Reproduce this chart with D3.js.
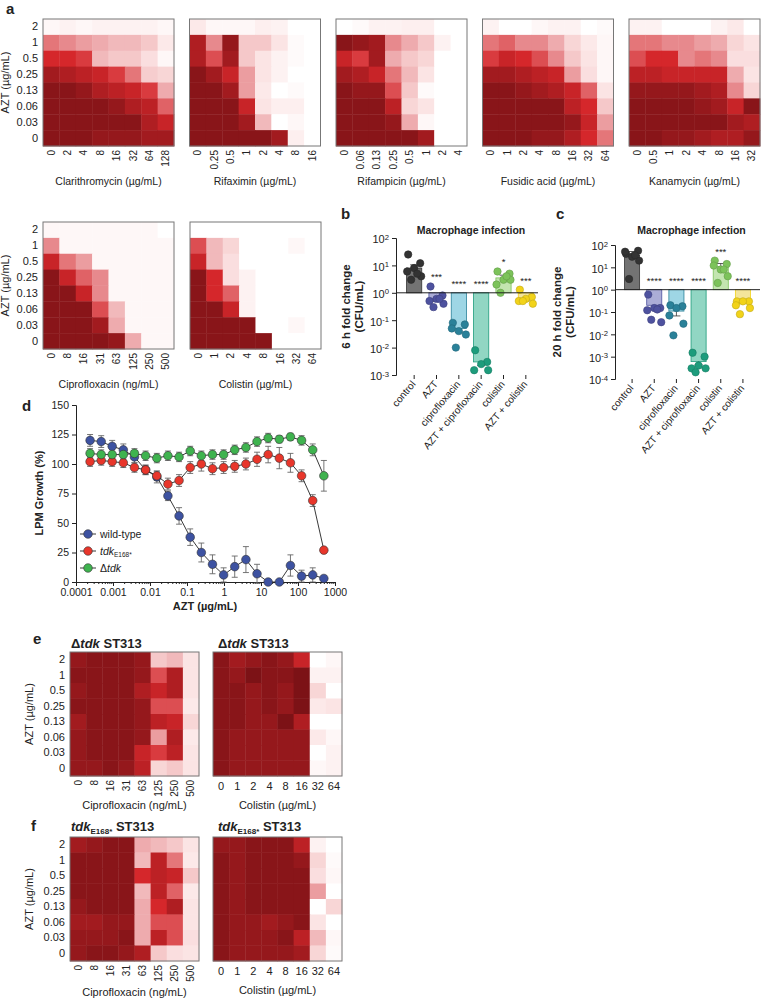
<!DOCTYPE html>
<html>
<head>
<meta charset="utf-8">
<script src="https://cdn.jsdelivr.net/npm/d3@7"></script>
<style>
  body { margin: 0; background: #fff; }
  text { font-family: Arial, "Liberation Sans", Helvetica, sans-serif; fill: #222; }
</style>
</head>
<body>
<script>
// ---- data ----
const aztLevels = ["2", "1", "0.5", "0.25", "0.13", "0.06", "0.03", "0"];

const clariConc = ["0", "2", "4", "8", "16", "32", "64", "128"];
const rifaxConc = ["0", "0.25", "0.5", "1", "2", "4", "8", "16"];
const rifamConc = ["0", "0.06", "0.13", "0.25", "0.5", "1", "2", "4"];
const fusidConc = ["0", "1", "2", "4", "8", "16", "32", "64"];
const kanaConc = ["0", "0.5", "1", "2", "4", "8", "16", "32"];
const ciproConc = ["0", "8", "16", "31", "63", "125", "250", "500"];
const colisConc = ["0", "1", "2", "4", "8", "16", "32", "64"];

// growth fraction, rows = AZT 2 .. 0, cols = drug conc
const clarithro = [
  [0.03, 0.05, 0.03, 0.05, 0.05, 0.05, 0.05, 0.03],
  [0.45, 0.4, 0.35, 0.3, 0.25, 0.25, 0.2, 0.08],
  [0.65, 0.65, 0.6, 0.25, 0.2, 0.2, 0.12, 0.03],
  [0.85, 0.8, 0.75, 0.7, 0.6, 0.45, 0.18, 0.15],
  [0.95, 0.95, 0.9, 0.8, 0.75, 0.7, 0.6, 0.3],
  [0.95, 0.95, 0.95, 0.95, 0.9, 0.8, 0.75, 0.5],
  [0.95, 0.95, 0.95, 0.95, 0.95, 0.95, 0.8, 0.7],
  [0.95, 0.95, 0.95, 0.9, 0.9, 0.9, 0.85, 0.85]
];
const rifaximin = [
  [0.08, 0.03, 0.03, 0.03, 0.06, 0.05, 0, 0],
  [0.8, 0.4, 0.9, 0.2, 0.2, 0.1, 0.02, 0],
  [0.8, 0.55, 0.85, 0.2, 0.1, 0.05, 0.02, 0],
  [0.95, 0.85, 0.7, 0.35, 0.1, 0.05, 0, 0],
  [0.95, 0.95, 0.85, 0.35, 0.08, 0, 0.02, 0],
  [0.95, 0.95, 0.95, 0.7, 0.1, 0.06, 0.06, 0],
  [0.95, 0.95, 0.95, 0.85, 0.25, 0, 0.03, 0],
  [0.95, 0.95, 0.95, 0.95, 0.95, 0.85, 0.06, 0]
];
const rifampicin = [
  [0, 0.02, 0.05, 0.05, 0.06, 0.06, 0, 0],
  [0.95, 0.9, 0.85, 0.4, 0.3, 0.2, 0.05, 0],
  [0.7, 0.6, 0.85, 0.3, 0.2, 0.15, 0, 0],
  [0.85, 0.8, 0.7, 0.45, 0.25, 0.1, 0, 0],
  [0.95, 0.9, 0.9, 0.55, 0.2, 0.02, 0, 0],
  [0.95, 0.95, 0.95, 0.75, 0.15, 0.1, 0, 0],
  [0.95, 0.95, 0.95, 0.9, 0.3, 0.03, 0, 0],
  [0.95, 0.95, 0.95, 0.95, 0.95, 0.85, 0, 0]
];
const fusidic = [
  [0.05, 0, 0, 0.03, 0.05, 0.05, 0, 0.02],
  [0.45, 0.5, 0.4, 0.4, 0.3, 0.15, 0.08, 0.03],
  [0.6, 0.7, 0.65, 0.55, 0.4, 0.2, 0.1, 0.03],
  [0.85, 0.85, 0.8, 0.75, 0.7, 0.35, 0.12, 0.03],
  [0.95, 0.95, 0.9, 0.85, 0.8, 0.7, 0.5, 0.1],
  [0.95, 0.95, 0.95, 0.95, 0.95, 0.75, 0.65, 0.2],
  [0.95, 0.95, 0.95, 0.95, 0.95, 0.9, 0.7, 0.35],
  [0.95, 0.95, 0.95, 0.9, 0.9, 0.8, 0.65, 0.45]
];
const kanamycin = [
  [0.05, 0.05, 0, 0, 0, 0.05, 0.08, 0],
  [0.45, 0.45, 0.4, 0.4, 0.35, 0.3, 0.15, 0.1],
  [0.55, 0.65, 0.65, 0.4, 0.45, 0.4, 0.12, 0.12],
  [0.75, 0.75, 0.7, 0.7, 0.7, 0.7, 0.3, 0.1],
  [0.9, 0.9, 0.9, 0.9, 0.85, 0.8, 0.4, 0.15],
  [0.95, 0.95, 0.95, 0.95, 0.9, 0.85, 0.7, 0.95],
  [0.95, 0.95, 0.95, 0.95, 0.95, 0.95, 0.85, 0.8],
  [0.95, 0.95, 0.9, 0.9, 0.85, 0.8, 0.8, 0.9]
];
const ciproWT = [
  [0.03, 0.03, 0.03, 0.03, 0.03, 0.03, 0.03, 0],
  [0.4, 0.03, 0.03, 0.03, 0.03, 0.03, 0.03, 0.03],
  [0.7, 0.45, 0.35, 0.03, 0.03, 0.03, 0.03, 0.03],
  [0.95, 0.7, 0.5, 0.4, 0.03, 0.03, 0.03, 0.03],
  [0.95, 0.95, 0.7, 0.4, 0.03, 0.03, 0.03, 0.03],
  [0.95, 0.95, 0.95, 0.55, 0.25, 0.03, 0.03, 0.03],
  [0.95, 0.95, 0.95, 0.85, 0.3, 0.03, 0.03, 0.03],
  [0.95, 0.95, 0.95, 0.95, 0.9, 0.3, 0.03, 0.03]
];
const colisWT = [
  [0, 0, 0, 0, 0, 0, 0, 0],
  [0.55, 0.25, 0.15, 0, 0, 0, 0.03, 0],
  [0.7, 0.25, 0.12, 0, 0, 0, 0, 0],
  [0.95, 0.65, 0.12, 0.05, 0, 0, 0, 0],
  [0.95, 0.65, 0.5, 0.05, 0, 0, 0, 0],
  [0.95, 0.95, 0.7, 0.05, 0, 0, 0, 0],
  [0.95, 0.95, 0.95, 0.95, 0, 0, 0.03, 0],
  [0.95, 0.95, 0.95, 0.95, 0.95, 0, 0, 0]
];
const ciproDtdk = [
  [0.9, 0.95, 0.95, 0.95, 0.9, 0.2, 0.25, 0.1],
  [0.95, 0.95, 0.95, 0.95, 0.9, 0.55, 0.8, 0.1],
  [0.9, 0.95, 0.95, 0.95, 0.8, 0.7, 0.8, 0.1],
  [0.95, 0.95, 0.95, 0.95, 0.9, 0.55, 0.55, 0.08],
  [0.85, 0.95, 0.95, 0.95, 0.9, 0.75, 0.7, 0.15],
  [0.9, 0.95, 0.95, 0.95, 0.9, 0.35, 0.8, 0.08],
  [0.9, 0.95, 0.95, 0.95, 0.7, 0.6, 0.75, 0.1],
  [0.9, 0.9, 0.95, 0.9, 0.75, 0.15, 0.2, 0.1]
];
const colisDtdk = [
  [0.95, 0.85, 0.9, 0.95, 0.9, 0.7, 0, 0.03],
  [0.95, 0.9, 1, 0.95, 0.95, 1, 0.05, 0.05],
  [0.95, 0.95, 0.9, 0.95, 0.9, 1, 0.15, 0],
  [0.95, 0.95, 0.9, 0.95, 0.9, 1, 0.08, 0.1],
  [0.95, 0.95, 0.9, 0.9, 1, 0.8, 0, 0],
  [0.95, 0.9, 0.9, 0.9, 0.9, 0.9, 0.08, 0.03],
  [0.95, 0.9, 0.9, 0.9, 0.9, 0.9, 0, 0.05],
  [0.95, 0.9, 0.9, 0.9, 0.9, 0.9, 0.03, 0.05]
];
const ciproE168 = [
  [0.85, 0.9, 0.95, 0.95, 0.3, 0.25, 0.2, 0.1],
  [0.95, 0.95, 0.95, 0.95, 0.25, 0.75, 0.45, 0.08],
  [0.95, 0.95, 0.95, 0.95, 0.65, 0.75, 0.7, 0.2],
  [0.95, 0.95, 0.95, 0.95, 0.25, 0.75, 0.5, 0.08],
  [0.9, 0.95, 0.95, 0.95, 0.3, 0.65, 0.8, 0.1],
  [0.85, 0.85, 0.9, 0.9, 0.3, 0.55, 0.55, 0.1],
  [0.9, 0.9, 0.9, 0.95, 0.3, 0.75, 0.55, 0.12],
  [0.9, 0.95, 0.95, 0.9, 0.8, 0.2, 0.12, 0.1]
];
const colisE168 = [
  [0.9, 0.9, 0.95, 0.95, 0.95, 0.75, 0.05, 0],
  [0.95, 0.9, 0.95, 0.95, 0.95, 0.9, 0.15, 0.02],
  [0.95, 0.9, 0.95, 0.95, 0.95, 0.95, 0.12, 0.03],
  [0.95, 0.9, 0.95, 0.95, 0.95, 0.95, 0.35, 0],
  [0.95, 0.9, 0.95, 0.95, 0.95, 0.95, 0, 0.15],
  [0.95, 0.9, 0.9, 0.85, 0.9, 0.95, 0.1, 0],
  [0.95, 0.9, 0.9, 0.9, 0.95, 0.75, 0.25, 0.03],
  [0.95, 0.9, 0.9, 0.9, 0.9, 0.85, 0.15, 0.02]
];

// macrophage infection
const groups = ["control", "AZT", "ciprofloxacin", "AZT + ciprofloxacin", "colistin", "AZT + colistin"];
const sixHMean = [8, 0.6, 0.05, 0.003, 3.5, 0.6];
const sixHPoints = [
  [25, 12, 8, 6, 4, 3, 5],
  [1.7, 0.8, 0.6, 0.5, 0.4, 0.3, 0.6],
  [0.08, 0.07, 0.04, 0.05, 0.03, 0.01],
  [0.008, 0.003, 0.0025, 0.0015, 0.0015],
  [6, 5, 3, 2, 3, 1, 4],
  [1.3, 0.7, 0.6, 0.5, 0.4, 0.5]
];
const sixHStars = ["", "***", "****", "****", "*", "***"];
const twentyHMean = [35, 0.2, 0.11, 0.0006, 11, 0.3];
const twentyHPoints = [
  [40, 55, 30, 50, 20, 3, 35],
  [0.6, 0.15, 0.15, 0.12, 0.035, 0.045, 0.13],
  [0.2, 0.18, 0.15, 0.07, 0.03, 0.009],
  [0.0015, 0.001, 0.0004, 0.0003, 0.0003, 0.0002],
  [20, 14, 8, 12, 4, 2, 8],
  [0.3, 0.3, 0.3, 0.2, 0.15, 0.08]
];
const twentyHStars = ["", "****", "****", "****", "***", "****"];

// LPM growth vs AZT
const aztDose = [0.00024, 0.00048, 0.00095, 0.0019, 0.0038, 0.0076, 0.0153, 0.0305, 0.061, 0.122, 0.244,
  0.488, 0.977, 1.95, 3.91, 7.81, 15.6, 31.3, 62.5, 125, 250, 500];
const wildType = [120, 119, 115, 112, 106, 95, 89, 73, 56, 38, 25, 15, 6, 13, 19, 7, 0, 0, 14, 5, 6, 3];
const wildTypeErr = [5, 5, 5, 5, 5, 4, 5, 4, 7, 7, 8, 8, 6, 9, 11, 8, 2, 2, 9, 5, 6, 2];
const tdkE168 = [102, 103, 102, 101, 97, 95, 90, 83, 86, 97, 100, 96, 97, 98, 100, 104, 108, 105, 101, 90, 69, 27];
const tdkE168Err = [4, 4, 4, 4, 4, 4, 4, 5, 5, 5, 6, 5, 5, 5, 5, 6, 7, 9, 8, 5, 5, 2];
const deltaTdk = [109, 108, 108, 108, 109, 107, 105, 107, 106, 111, 107, 108, 108, 112, 114, 119, 122, 121, 123, 120, 112, 90];
const deltaTdkErr = [4, 4, 4, 4, 4, 4, 4, 4, 4, 4, 4, 4, 4, 4, 4, 4, 4, 3, 3, 4, 5, 13];

// ---- drawing ----
const svg = d3.select("body").append("svg").attr("width", 762).attr("height", 999);

const heatColor = d3.scaleLinear()
  .domain([0, 0.1, 0.35, 0.65, 1])
  .range(["#ffffff", "#fbe4e4", "#eb9da0", "#d5272b", "#7c1216"])
  .clamp(true);

function heatmap(o) {
  const g = svg.append("g").attr("transform", `translate(${o.x},${o.y})`);
  const x = d3.scaleBand().domain(o.cols).range([0, o.w]);
  const y = d3.scaleBand().domain(aztLevels).range([0, o.h]);
  const cells = [];
  o.vals.forEach((row, i) => row.forEach((v, j) => cells.push({ r: aztLevels[i], c: o.cols[j], v })));
  g.selectAll("rect.cell").data(cells).join("rect")
    .attr("x", d => x(d.c)).attr("y", d => y(d.r))
    .attr("width", x.bandwidth() + 0.4).attr("height", y.bandwidth() + 0.4)
    .attr("fill", d => heatColor(d.v));
  g.append("rect").attr("width", o.w).attr("height", o.h)
    .attr("fill", "none").attr("stroke", "#777").attr("stroke-width", 1);

  const xa = g.append("g").attr("transform", `translate(0,${o.h})`)
    .call(d3.axisBottom(x).tickSize(0).tickPadding(5));
  xa.select(".domain").remove();
  xa.selectAll("text").attr("font-size", 10).attr("fill", "#222");
  if (o.rot) {
    xa.selectAll("text").attr("transform", "rotate(-90)")
      .attr("text-anchor", "end").attr("x", -4).attr("y", 0).attr("dy", "0.35em");
  } else {
    xa.selectAll("text").attr("font-size", 11).attr("y", 6);
  }
  if (o.yAxis) {
    const ya = g.append("g").call(d3.axisLeft(y).tickSize(0).tickPadding(5));
    ya.select(".domain").remove();
    ya.selectAll("text").attr("font-size", 11).attr("fill", "#222");
    g.append("text").attr("transform", `translate(${o.yTitleX},${o.h / 2}) rotate(-90)`)
      .attr("text-anchor", "middle").attr("font-size", 11).text("AZT (µg/mL)");
  }
  g.append("text").attr("x", o.w / 2).attr("y", o.h + o.titleDy)
    .attr("text-anchor", "middle").attr("font-size", o.titleSize || 10.5).text(o.title);
}

function panelLetter(t, x, y) {
  svg.append("text").attr("x", x).attr("y", y).attr("font-size", 15)
    .attr("font-weight", "bold").attr("fill", "#000").text(t);
}

// panel a
panelLetter("a", 6, 14);
const rowOne = [
  [clarithro, clariConc, "Clarithromycin (µg/mL)"],
  [rifaximin, rifaxConc, "Rifaximin (µg/mL)"],
  [rifampicin, rifamConc, "Rifampicin (µg/mL)"],
  [fusidic, fusidConc, "Fusidic acid (µg/mL)"],
  [kanamycin, kanaConc, "Kanamycin (µg/mL)"]
];
rowOne.forEach((m, i) => heatmap({
  vals: m[0], cols: m[1], title: m[2], x: 43 + i * 146.5, y: 19, w: 131, h: 127,
  rot: true, yAxis: i === 0, yTitleX: -34, titleDy: 39
}));
heatmap({ vals: ciproWT, cols: ciproConc, title: "Ciprofloxacin (ng/mL)", x: 43, y: 222, w: 131, h: 127,
  rot: true, yAxis: true, yTitleX: -34, titleDy: 39 });
heatmap({ vals: colisWT, cols: colisConc, title: "Colistin (µg/mL)", x: 190, y: 222, w: 131, h: 127,
  rot: true, yAxis: false, titleDy: 39 });

// panels b, c
const groupColors = ["#333333", "#4e529f", "#2a8199", "#1d9c7c", "#7cc35a", "#f2d31a"];
const barColors = ["#5a5a5a", "#9c9fd0", "#8dcfe0", "#7ecfb8", "#b9e0a2", "#f2e08a"];

function barPanel(o) {
  const g = svg.append("g");
  const y = d3.scaleLog().domain(o.domain).range([o.bottom, o.top]);
  const x = d3.scaleBand().domain(groups).range([o.x0, o.x1]).paddingInner(0.32).paddingOuter(0.16);
  const cx = d => x(d) + x.bandwidth() / 2;

  g.selectAll("rect.bar").data(groups).join("rect")
    .attr("x", d => x(d)).attr("width", x.bandwidth())
    .attr("y", (d, i) => Math.min(y(1), y(o.means[i])))
    .attr("height", (d, i) => Math.abs(y(1) - y(o.means[i])))
    .attr("fill", (d, i) => barColors[i]).attr("fill-opacity", 0.85)
    .attr("stroke", (d, i) => groupColors[i]).attr("stroke-width", 0.8);

  // SEM error bars (computed on log10 of points)
  groups.forEach((grp, i) => {
    const lg = o.points[i].map(Math.log10);
    const sem = d3.deviation(lg) / Math.sqrt(lg.length);
    const m = Math.log10(o.means[i]);
    const dir = o.means[i] >= 1 ? 1 : -1;
    const tip = Math.pow(10, m + dir * sem);
    g.append("line").attr("x1", cx(grp)).attr("x2", cx(grp))
      .attr("y1", y(o.means[i])).attr("y2", y(tip)).attr("stroke", "#333").attr("stroke-width", 0.8);
    g.append("line").attr("x1", cx(grp) - 4).attr("x2", cx(grp) + 4)
      .attr("y1", y(tip)).attr("y2", y(tip)).attr("stroke", "#333").attr("stroke-width", 0.8);
  });

  // points, spread in a small beeswarm-like pattern
  const offsets = [-6, 6, 0, -7, 7, -3, 3];
  groups.forEach((grp, i) => {
    g.selectAll(null).data(o.points[i]).join("circle")
      .attr("cx", (d, k) => cx(grp) + offsets[k % offsets.length])
      .attr("cy", d => y(d)).attr("r", 3.7)
      .attr("fill", groupColors[i]).attr("stroke", d3.color(groupColors[i]).darker(0.6)).attr("stroke-width", 0.6);
    if (o.stars[i]) {
      const top = Math.max(1, d3.max(o.points[i]));
      g.append("text").attr("x", cx(grp)).attr("y", y(top) - 6)
        .attr("text-anchor", "middle").attr("font-size", 9.5).attr("fill", "#222").text(o.stars[i]);
    }
  });

  // baseline at 10^0
  g.append("line").attr("x1", o.axisX).attr("x2", o.lineEnd).attr("y1", y(1)).attr("y2", y(1))
    .attr("stroke", "#222").attr("stroke-width", 1);

  // y axis
  const ya = g.append("g").attr("transform", `translate(${o.axisX},0)`)
    .call(d3.axisLeft(y).tickValues(o.ticks).tickSize(4).tickPadding(3).tickFormat(() => ""));
  ya.selectAll("line, path").attr("stroke", "#222");
  ya.selectAll(".tick text").each(function (d) {
    const t = d3.select(this).attr("font-size", 11).attr("fill", "#222").attr("dy", "0.45em");
    const e = Math.round(Math.log10(d));
    t.append("tspan").text("10");
    t.append("tspan").attr("dy", "-0.5em").attr("font-size", "0.7em").text(e);
  });

  // bottom ticks and rotated group labels
  const xa = g.append("g").attr("transform", `translate(0,${o.bottom})`)
    .call(d3.axisBottom(x).tickSize(4).tickPadding(4));
  xa.select(".domain").remove();
  xa.selectAll("line").attr("stroke", "#222");
  xa.selectAll("text").attr("font-size", 10).attr("fill", "#222")
    .attr("transform", "rotate(-50)").attr("text-anchor", "end")
    .attr("x", -6).attr("y", 4).attr("dy", "0.35em");

  g.append("text").attr("x", (o.axisX + o.lineEnd) / 2 + 4).attr("y", o.titleY)
    .attr("text-anchor", "middle").attr("font-size", 10.5).attr("font-weight", "bold")
    .attr("fill", "#000").text("Macrophage infection");
  const yl = g.append("text").attr("transform", `translate(${o.yTitleX},${(o.top + o.bottom) / 2}) rotate(-90)`)
    .attr("text-anchor", "middle").attr("font-size", 11.5).attr("font-weight", "bold").attr("fill", "#000");
  yl.append("tspan").attr("x", 0).attr("dy", 0).text(o.yTitle);
  yl.append("tspan").attr("x", 0).attr("dy", "1.15em").text("(CFU/mL)");
}

panelLetter("b", 341, 219);
barPanel({
  domain: [1e-3, 1e2], top: 238, bottom: 375, x0: 403, x1: 537, axisX: 396, lineEnd: 538,
  means: sixHMean, points: sixHPoints, stars: sixHStars, ticks: [1e-3, 1e-2, 1e-1, 1, 10, 100],
  titleY: 234, yTitleX: 350, yTitle: "6 h fold change"
});
panelLetter("c", 556, 219);
barPanel({
  domain: [1e-4, 1e2], top: 245, bottom: 379, x0: 621, x1: 754, axisX: 615, lineEnd: 760,
  means: twentyHMean, points: twentyHPoints, stars: twentyHStars, ticks: [1e-4, 1e-3, 1e-2, 1e-1, 1, 10, 100],
  titleY: 234, yTitleX: 561, yTitle: "20 h fold change"
});

// panel d
panelLetter("d", 22, 411);
(function () {
  const g = svg.append("g");
  const x = d3.scaleLog().domain([1e-4, 1e3]).range([76, 335]);
  const y = d3.scaleLinear().domain([0, 150]).range([582, 405]);

  const ya = g.append("g").attr("transform", "translate(76,0)")
    .call(d3.axisLeft(y).tickValues([0, 25, 50, 75, 100, 125, 150]).tickSize(4).tickPadding(3));
  ya.selectAll("text").attr("font-size", 10.5).attr("fill", "#222");
  ya.selectAll("line, path").attr("stroke", "#222");

  const decades = [1e-4, 1e-3, 1e-2, 1e-1, 1, 10, 100, 1000];
  const xa = g.append("g").attr("transform", "translate(0,582)")
    .call(d3.axisBottom(x).tickValues(decades).tickSize(4).tickPadding(3)
      .tickFormat(d => d >= 1 ? d3.format("d")(d) : d3.format(".4~f")(d)));
  xa.selectAll("text").attr("font-size", 10.5).attr("fill", "#222");
  xa.selectAll("line, path").attr("stroke", "#222");
  const minor = [];
  decades.slice(0, -1).forEach(dd => { for (let k = 2; k < 10; k++) minor.push(dd * k); });
  const xm = g.append("g").attr("transform", "translate(0,582)")
    .call(d3.axisBottom(x).tickValues(minor).tickSize(2).tickFormat(""));
  xm.select(".domain").remove();
  xm.selectAll("line").attr("stroke", "#222");

  g.append("text").attr("x", 205).attr("y", 610).attr("text-anchor", "middle")
    .attr("font-size", 11).attr("font-weight", "bold").attr("fill", "#000").text("AZT (µg/mL)");
  g.append("text").attr("transform", "translate(43,493) rotate(-90)").attr("text-anchor", "middle")
    .attr("font-size", 11).attr("font-weight", "bold").attr("fill", "#000").text("LPM Growth (%)");

  const series = [
    { vals: wildType, err: wildTypeErr, color: "#3d52a1" },
    { vals: tdkE168, err: tdkE168Err, color: "#e8362b" },
    { vals: deltaTdk, err: deltaTdkErr, color: "#3fb34f" }
  ];
  const line = d3.line().x((d, i) => x(aztDose[i])).y(d => y(d));
  series.forEach(s => {
    const eg = g.append("g").attr("stroke", "#666").attr("stroke-width", 0.9);
    s.vals.forEach((v, i) => {
      const xx = x(aztDose[i]);
      eg.append("line").attr("x1", xx).attr("x2", xx).attr("y1", y(v - s.err[i])).attr("y2", y(v + s.err[i]));
      eg.append("line").attr("x1", xx - 3).attr("x2", xx + 3).attr("y1", y(v + s.err[i])).attr("y2", y(v + s.err[i]));
      eg.append("line").attr("x1", xx - 3).attr("x2", xx + 3).attr("y1", y(v - s.err[i])).attr("y2", y(v - s.err[i]));
    });
  });
  series.forEach(s => {
    g.append("path").datum(s.vals).attr("d", line).attr("fill", "none")
      .attr("stroke", "#222").attr("stroke-width", 0.9);
    g.selectAll(null).data(s.vals).join("circle")
      .attr("cx", (d, i) => x(aztDose[i])).attr("cy", d => y(d)).attr("r", 4.3)
      .attr("fill", s.color).attr("stroke", "#333").attr("stroke-width", 0.6);
  });

  // legend
  const legY = [534, 551, 568];
  series.forEach((s, i) => {
    g.append("line").attr("x1", 80).attr("x2", 96).attr("y1", legY[i]).attr("y2", legY[i])
      .attr("stroke", "#222").attr("stroke-width", 0.9);
    g.append("circle").attr("cx", 88).attr("cy", legY[i]).attr("r", 4.3)
      .attr("fill", s.color).attr("stroke", "#333").attr("stroke-width", 0.6);
  });
  g.append("text").attr("x", 100).attr("y", legY[0] + 3.5).attr("font-size", 10.5).text("wild-type");
  const t2 = g.append("text").attr("x", 100).attr("y", legY[1] + 3.5).attr("font-size", 10.5);
  t2.append("tspan").attr("font-style", "italic").text("tdk");
  t2.append("tspan").attr("font-size", 6.5).attr("dy", 2.5).text("E168*");
  const t3 = g.append("text").attr("x", 100).attr("y", legY[2] + 3.5).attr("font-size", 10.5);
  t3.append("tspan").text("Δ");
  t3.append("tspan").attr("font-style", "italic").text("tdk");
})();

// panels e, f
function mapTitle(x, y, mutant) {
  const t = svg.append("text").attr("x", x).attr("y", y).attr("font-size", 13)
    .attr("font-weight", "bold").attr("fill", "#000");
  if (mutant === "dtdk") {
    t.append("tspan").text("Δ");
    t.append("tspan").attr("font-style", "italic").text("tdk");
    t.append("tspan").text(" ST313");
  } else {
    t.append("tspan").attr("font-style", "italic").text("tdk");
    t.append("tspan").attr("font-size", 8).attr("dy", 3).text("E168*");
    t.append("tspan").attr("dy", -3).text(" ST313");
  }
}

panelLetter("e", 33, 644);
mapTitle(71, 648, "dtdk");
mapTitle(218, 648, "dtdk");
heatmap({ vals: ciproDtdk, cols: ciproConc, title: "Ciprofloxacin (ng/mL)", x: 70, y: 652, w: 129, h: 124,
  rot: true, yAxis: true, yTitleX: -37, titleDy: 33, titleSize: 11 });
heatmap({ vals: colisDtdk, cols: colisConc, title: "Colistin (µg/mL)", x: 213, y: 652, w: 129, h: 124,
  rot: false, yAxis: false, titleDy: 33, titleSize: 11 });

panelLetter("f", 31, 831);
mapTitle(71, 831, "e168");
mapTitle(218, 831, "e168");
heatmap({ vals: ciproE168, cols: ciproConc, title: "Ciprofloxacin (ng/mL)", x: 70, y: 837, w: 129, h: 124,
  rot: true, yAxis: true, yTitleX: -37, titleDy: 35, titleSize: 11 });
heatmap({ vals: colisE168, cols: colisConc, title: "Colistin (µg/mL)", x: 213, y: 837, w: 129, h: 124,
  rot: false, yAxis: false, titleDy: 33, titleSize: 11 });
</script>
</body>
</html>
